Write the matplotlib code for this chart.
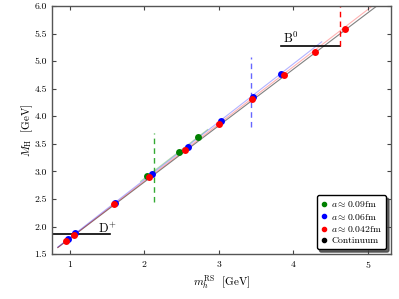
import matplotlib
matplotlib.use('Agg')
import matplotlib.pyplot as plt

plt.rcParams['font.family'] = 'serif'
plt.rcParams['font.serif'] = ['cmr10', 'DejaVu Serif']
plt.rcParams['mathtext.fontset'] = 'cm'
plt.rcParams['axes.formatter.use_mathtext'] = True
plt.rcParams['axes.unicode_minus'] = False

# data points: (m_h^RS, M_H)
green_x = [2.04, 2.47, 2.72]
green_y = [2.91, 3.35, 3.63]
blue_x = [0.977, 1.076, 1.61, 2.105, 2.58, 3.03, 3.46, 3.84]
blue_y = [1.78, 1.887, 2.43, 2.95, 3.44, 3.91, 4.35, 4.76]
red_x = [0.956, 1.054, 1.587, 2.065, 2.54, 3.0, 3.44, 3.88, 4.29, 4.69]
red_y = [1.74, 1.85, 2.41, 2.90, 3.39, 3.86, 4.31, 4.74, 5.17, 5.58]

# fit lines (endpoints)
cont_x = [0.84, 5.12]
cont_y = [1.62, 6.0]
red_fit_x = [0.84, 5.06]
red_fit_y = [1.62, 6.0]
blue_fit_x = [0.84, 4.38]
blue_fit_y = [1.63, 5.35]
green_fit_x = [1.95, 2.85]
green_fit_y = [2.82, 3.76]

# physical thresholds
d_mass = 1.87
b_mass = 5.28
d_line_x = [0.76, 1.54]
b_line_x = [3.84, 4.62]

# vertical dashed cuts: x, ymin, ymax
green_cut = (2.13, 2.44, 3.70)
blue_cut = (3.425, 3.80, 5.07)
red_cut = (4.63, 5.27, 6.05)

fig = plt.figure(figsize=(3.99, 2.99), dpi=100)
ax = fig.add_axes([0.130, 0.150, 0.850, 0.830])

ax.plot(cont_x, cont_y, color='gray', lw=0.8, zorder=1)
ax.plot(red_fit_x, red_fit_y, color='red', lw=0.8, alpha=0.3, zorder=1)
ax.plot(blue_fit_x, blue_fit_y, color='blue', lw=0.8, alpha=0.3, zorder=1)
ax.plot(green_fit_x, green_fit_y, color='green', lw=0.8, alpha=0.3, zorder=1)

ax.plot(d_line_x, [d_mass, d_mass], color='black', lw=1.2, zorder=2)
ax.plot(b_line_x, [b_mass, b_mass], color='black', lw=1.2, zorder=2)
ax.text(1.38, d_mass + 0.02, r'$\mathrm{D}^{+}$', fontsize=9)
ax.text(3.86, b_mass + 0.04, r'$\mathrm{B}^{0}$', fontsize=9)

for (xc, y0, y1), col in zip([green_cut, blue_cut, red_cut], ['#33aa33', '#6666ff', 'red']):
    ax.plot([xc, xc], [y0, y1], color=col, lw=1.0, ls='--', dashes=(4, 3), zorder=2)

ax.plot(green_x, green_y, 'o', color='green', ms=5, mec='none', zorder=3)
ax.plot(blue_x, blue_y, 'o', color='blue', ms=5, mec='none', zorder=3)
ax.plot(red_x, red_y, 'o', color='red', ms=5, mec='none', zorder=4)

# legend handles
ax.plot([], [], 'o', color='green', ms=3, label=r'$a\approx 0.09$fm')
ax.plot([], [], 'o', color='blue', ms=3, label=r'$a\approx 0.06$fm')
ax.plot([], [], 'o', color='red', ms=3, label=r'$a\approx 0.042$fm')
ax.plot([], [], 'o', color='black', ms=3, label='Continuum')
leg = ax.legend(loc='lower right', fontsize=7, numpoints=1, handlelength=0.6,
                handletextpad=0.5, borderpad=0.4, labelspacing=0.25,
                fancybox=True, shadow={'color': '0.25', 'alpha': 0.8}, framealpha=1)
leg.get_frame().set_edgecolor('black')

ax.set_xlim(0.76, 5.31)
ax.set_ylim(1.5, 6.0)
ax.set_xticks([1, 2, 3, 4, 5])
ax.set_yticks([1.5, 2.0, 2.5, 3.0, 3.5, 4.0, 4.5, 5.0, 5.5, 6.0])
ax.yaxis.set_major_formatter(matplotlib.ticker.FormatStrFormatter('%.1f'))
ax.tick_params(direction='in', top=True, right=True, labelsize=7, length=3, color='#444444')
for s in ax.spines.values():
    s.set_color('#555555')
    s.set_linewidth(1.0)

ax.set_xlabel(r'$m_h^{\rm RS}$  [GeV]', fontsize=8, labelpad=2)
ax.set_ylabel(r'$M_{\rm H}$  [GeV]', fontsize=8, labelpad=0)

fig.savefig('out.png', dpi=100)
